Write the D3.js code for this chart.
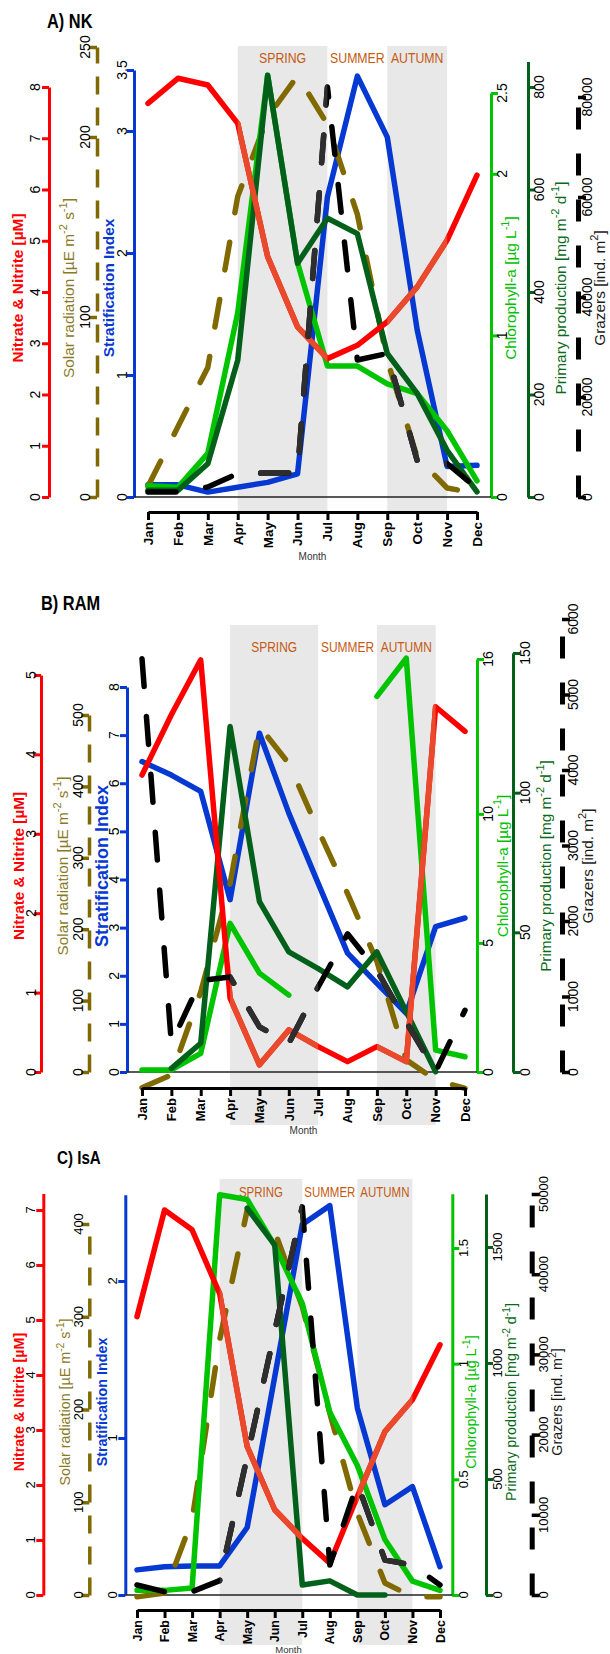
<!DOCTYPE html>
<meta charset="utf-8">
<style>
body { margin: 0; background: #fff; }
svg text { font-family: "Liberation Sans", Arial, sans-serif; }
</style>
<body>
<svg width="610" height="1654"></svg>
<script src="https://cdn.jsdelivr.net/npm/d3@7/dist/d3.min.js"></script>
<script>

// Months and seasons (index of start / end month)
var months = ["Jan", "Feb", "Mar", "Apr", "May", "Jun", "Jul", "Aug", "Sep", "Oct", "Nov", "Dec"];
var seasonNames = ["SPRING", "SUMMER", "AUTUMN"];
var seasonStart = [3, 6, 8];
var seasonEnd = [6, 8, 10];
var seasonShaded = [true, false, true];

// A) NK
var nkNitrate = [7.68, 8.17, 8.04, 7.29, 4.69, 3.32, 2.70, 2.96, 3.42, 4.10, 5.01, 6.28];
var nkSolar = [6, 39, 72, 167, 211, 234, 207, 157, 76, 22, 5, 2];
var nkStrat = [0.10, 0.10, 0.04, 0.08, 0.12, 0.19, 2.46, 3.45, 2.95, 1.37, 0.25, 0.26];
var nkChl = [0.07, 0.06, 0.27, 1.14, 2.61, 1.45, 0.81, 0.81, 0.70, 0.64, 0.41, 0.10];
var nkPP = [13, 13, 65, 267, 823, 456, 544, 514, 280, 202, 91, 10];
var nkGrazers = [1000, 1000, 2000, 4700, 4800, 4800, 82000, 27400, 28700, 7300, 6700, 1700];

// B) RAM
var ramNitrate = [3.74, 4.50, 5.19, 0.93, 0.09, 0.53, 0.32, 0.13, 0.32, 0.13, 4.60, 4.29];
var ramSolar = [-22, -4, 112, 264, 484, 432, 339, 250, 155, 17, -11, -23];
var ramStrat = [6.45, 6.17, 5.83, 3.58, 7.04, 5.38, 3.92, 2.47, 1.84, 1.22, 3.02, 3.20];
var ramChl = [0.08, 0.08, 0.72, 5.76, 3.83, 2.98, null, null, 14.55, 16.03, 0.85, 0.59];
var ramPP = [null, 1.3, 10.3, 123.7, 61, 43, 37, 30.5, 43, 21.6, 0.1, null];
var ramGrazers = [5475, 379, 1214, 1257, 598, 379, 1126, 1830, 1345, 664, 4, 818];

// C) IsA
var isaNitrate = [5.06, 7.00, 6.64, 5.48, 2.70, 1.55, 1.03, 0.58, 1.79, 2.97, 3.55, 4.55];
var isaSolar = [-2, 2, 81, 275, 415, 392, 311, 196, 88, 13, -2, -2];
var isaStrat = [0.16, 0.18, 0.185, 0.185, 0.43, 1.39, 2.36, 2.48, 1.19, 0.575, 0.69, 0.18];
var isaChl = [0.02, 0.02, 0.03, 1.73, 1.71, 1.51, 1.26, 0.79, 0.56, 0.24, 0.06, 0.02];
var isaPP = [null, null, null, null, 1667, 1509, 43, 61, 0, 0, null, null];
var isaGrazers = [1250, 415, 415, 1790, 17250, 32900, 48400, 3740, 13900, 4360, 3740, 1250];

// Tick values
var nkTicks = {
  nitrate: [0, 1, 2, 3, 4, 5, 6, 7, 8], solar: [0, 100, 200, 250], strat: [0, 1, 2, 3, 3.5],
  chl: [0, 1, 2, 2.5], pp: [0, 200, 400, 600, 800], grazers: [0, 20000, 40000, 60000, 80000]
};
var ramTicks = {
  nitrate: [0, 1, 2, 3, 4, 5], solar: [0, 100, 200, 300, 400, 500], strat: [0, 1, 2, 3, 4, 5, 6, 7, 8],
  chl: [0, 5, 10, 16], pp: [0, 50, 100, 150], grazers: [0, 1000, 2000, 3000, 4000, 5000, 6000]
};
var isaTicks = {
  nitrate: [0, 1, 2, 3, 4, 5, 6, 7], solar: [0, 100, 200, 300, 400], strat: [0, 1, 2],
  chl: [0, 0.5, 1, 1.5], pp: [0, 500, 1000, 1500], grazers: [0, 10000, 20000, 30000, 40000, 50000]
};

// Axis titles: [text, superscript?]
var axisTitles = {
  nitrate: [["Nitrate & Nitrite [µM]"]],
  solar: [["Solar radiation [µE m"], ["-2", 1], [" s"], ["-1", 1], ["]"]],
  strat: [["Stratification Index"]],
  chl: [["Chlorophyll-a [µg L"], ["-1", 1], ["]"]],
  pp: [["Primary production [mg m"], ["-2", 1], [" d"], ["-1", 1], ["]"]],
  grazers: [["Grazers [ind. m"], ["2", 1], ["]"]]
};

var style = {
  nitrate: { color: "#ff0000", shade: "#ea4a2c", title: "#ff0000", bold: true, side: "left" },
  solar:   { color: "#806a00", dash: "28,30", axisDash: "18,13", axisW: 3.5, title: "#8a7a26", side: "left" },
  strat:   { color: "#0638d2", title: "#0638d2", bold: true, side: "left" },
  chl:     { color: "#00c400", title: "#00c000", side: "right" },
  pp:      { color: "#03601a", title: "#0a6a1a", side: "right" },
  grazers: { color: "#000000", shade: "#2e2e2e", dash: "28,30", axisDash: "22,24", axisW: 5, title: "#1a1a1a", side: "right" }
};
var drawOrder = ["strat", "solar", "chl", "pp", "nitrate", "grazers"];

var panels = [
  {
    id: "nk", title: "A) NK", titleX: 47, titleY: 28, titleSize: 20,
    x0: 148, x1: 477, y0: 497, shadeTop: 46, shadeBottom: 512, seasonY: 63, seasonSize: 15,
    monthY: 512, monthSize: 13.5, monthTitleY: 560, monthTitleSize: 10,
    tickSize: 14, axTitleSize: 15.4, stratTitleSize: 15.4, axTitleY: 288,
    data: { nitrate: nkNitrate, solar: nkSolar, strat: nkStrat, chl: nkChl, pp: nkPP, grazers: nkGrazers },
    ticks: nkTicks,
    axes: {
      nitrate: { x: 49, ref: [8, 87], max: 8, labelX: 35, titleX: 17 },
      solar: { x: 97, ref: [250, 47], max: 250, labelX: 85, titleX: 68 },
      strat: { x: 134, ref: [3.5, 70], max: 3.5, labelX: 122, titleX: 108 },
      chl: { x: 491, ref: [2.5, 93], max: 2.5, labelX: 502, titleX: 510 },
      pp: { x: 528, ref: [800, 87], max: 850, labelX: 539, titleX: 560 },
      grazers: { x: 578, ref: [80000, 97], max: 80000, labelX: 587, titleX: 599 }
    }
  },
  {
    id: "ram", title: "B) RAM", titleX: 41, titleY: 610, titleSize: 20,
    x0: 142, x1: 465, y0: 1072, shadeTop: 625, shadeBottom: 1125, seasonY: 652, seasonSize: 14.6,
    monthY: 1088, monthSize: 13, monthTitleY: 1134, monthTitleSize: 10,
    tickSize: 14, axTitleSize: 15.3, stratTitleSize: 18, axTitleY: 866,
    data: { nitrate: ramNitrate, solar: ramSolar, strat: ramStrat, chl: ramChl, pp: ramPP, grazers: ramGrazers },
    ticks: ramTicks,
    axes: {
      nitrate: { x: 41, ref: [5, 675], max: 5, labelX: 31, titleX: 18 },
      solar: { x: 89, ref: [500, 715], max: 500, labelX: 78, titleX: 62 },
      strat: { x: 127, ref: [8, 687], max: 8, labelX: 114, titleX: 101.5 },
      chl: { x: 477, ref: [16, 659], max: 16, labelX: 488, titleX: 502 },
      pp: { x: 513, ref: [150, 653], max: 150, labelX: 525, titleX: 545 },
      grazers: { x: 562, ref: [6000, 619], max: 6000, labelX: 573, titleX: 587 }
    }
  },
  {
    id: "isa", title: "C) IsA", titleX: 57, titleY: 1164, titleSize: 18.5,
    x0: 137, x1: 440, y0: 1595, shadeTop: 1179, shadeBottom: 1645, seasonY: 1197, seasonSize: 14,
    monthY: 1610, monthSize: 12.5, monthTitleY: 1653, monthTitleSize: 9.5,
    tickSize: 13, axTitleSize: 14.3, stratTitleSize: 14.3, axTitleY: 1402,
    data: { nitrate: isaNitrate, solar: isaSolar, strat: isaStrat, chl: isaChl, pp: isaPP, grazers: isaGrazers },
    ticks: isaTicks,
    axes: {
      nitrate: { x: 43.3, ref: [7, 1210], max: 7.3, labelX: 30, titleX: 19 },
      solar: { x: 89.3, ref: [400, 1224], max: 400, labelX: 78, titleX: 65 },
      strat: { x: 125.3, ref: [2, 1281], max: 2.55, labelX: 112.5, titleX: 102 },
      chl: { x: 452.3, ref: [1.5, 1248], max: 1.734, labelX: 463, titleX: 471 },
      pp: { x: 486, ref: [1500, 1247], max: 1728, labelX: 497, titleX: 511 },
      grazers: { x: 531.7, ref: [50000, 1194], max: 50000, labelX: 543, titleX: 557 }
    }
  }
];

var svg = d3.select("svg");
var defs = svg.append("defs");

function drawPanel(p) {
  var g = svg.append("g").attr("class", "panel-" + p.id);
  var x = d3.scaleLinear().domain([0, 11]).range([p.x0, p.x1]);

  // seasonal shading (and a clip of it, to tint lines inside the bands)
  var clipId = "clip-" + p.id;
  var clip = defs.append("clipPath").attr("id", clipId);
  seasonNames.forEach(function(s, i) {
    if (!seasonShaded[i]) return;
    var r = [x(seasonStart[i]), p.shadeTop, x(seasonEnd[i]) - x(seasonStart[i]), p.shadeBottom - p.shadeTop];
    g.append("rect").attr("x", r[0]).attr("y", r[1]).attr("width", r[2]).attr("height", r[3])
      .attr("fill", "#e8e8e8");
    clip.append("rect").attr("x", r[0]).attr("y", r[1]).attr("width", r[2]).attr("height", r[3]);
  });
  // narrow-looking labels: squeeze Liberation Sans horizontally
  seasonNames.forEach(function(s, i) {
    g.append("text")
      .attr("transform", "translate(" + x((seasonStart[i] + seasonEnd[i]) / 2) + "," + p.seasonY + ") scale(0.82,1)")
      .attr("text-anchor", "middle").style("font-size", p.seasonSize + "px")
      .attr("fill", "#c55a11").text(s);
  });

  // panel title
  g.append("text")
    .attr("transform", "translate(" + p.titleX + "," + p.titleY + ") scale(0.82,1)")
    .style("font-size", p.titleSize + "px").style("font-weight", "bold")
    .text(p.title);

  // scales and axes
  var ys = {};
  Object.keys(p.axes).forEach(function(k) {
    var a = p.axes[k], st = style[k];
    var pxPerUnit = (p.y0 - a.ref[1]) / a.ref[0];
    var y = d3.scaleLinear().domain([0, a.max]).range([p.y0, p.y0 - a.max * pxPerUnit]);
    ys[k] = y;
    var axis = (st.side === "left" ? d3.axisLeft(y) : d3.axisRight(y))
      .tickValues(p.ticks[k]).tickSize(st.axisDash ? 8 : 7).tickSizeOuter(0).tickFormat("");
    var ag = g.append("g").attr("transform", "translate(" + a.x + ",0)").call(axis);
    ag.select(".domain").attr("stroke", st.color).attr("stroke-width", st.axisW || 3)
      .attr("stroke-dasharray", st.axisDash || null);
    ag.selectAll(".tick line").attr("stroke", st.color).attr("stroke-width", st.axisDash ? 3.5 : 3);

    // rotated tick labels
    g.selectAll(null).data(p.ticks[k]).enter().append("text")
      .attr("transform", function(d) { return "translate(" + a.labelX + "," + y(d) + ") rotate(-90)"; })
      .attr("text-anchor", "middle").attr("dy", "0.36em")
      .style("font-size", p.tickSize + "px").attr("fill", "#000")
      .text(function(d) { return String(d); });

    // rotated axis title
    var fs = k === "strat" ? p.stratTitleSize : p.axTitleSize;
    var t = g.append("text")
      .attr("transform", "translate(" + a.titleX + "," + p.axTitleY + ") rotate(-90)")
      .attr("text-anchor", "middle").attr("dy", (0.36 * fs) + "px")
      .style("font-size", fs + "px").style("font-weight", st.bold ? "bold" : "normal")
      .attr("fill", st.title);
    var shift = 0;
    axisTitles[k].forEach(function(part) {
      var ts = t.append("tspan").text(part[0]);
      if (part[1]) {
        ts.style("font-size", (fs * 0.72) + "px").attr("dy", (-0.45 * fs) + "px");
        shift = 0.45 * fs;
      } else if (shift) {
        ts.attr("dy", shift + "px");
        shift = 0;
      }
    });
  });

  // zero baseline
  g.append("line")
    .attr("x1", p.axes.strat.x).attr("x2", p.axes.chl.x)
    .attr("y1", p.y0).attr("y2", p.y0)
    .attr("stroke", "#222").attr("stroke-width", 1.3);

  // data lines
  drawOrder.forEach(function(k) {
    var st = style[k];
    var line = d3.line()
      .defined(function(d) { return d != null; })
      .x(function(d, i) { return x(i); })
      .y(function(d) { return ys[k](d); });
    var path = line(p.data[k]);
    g.append("path").attr("d", path)
      .attr("fill", "none").attr("stroke", st.color).attr("stroke-width", 5.5)
      .attr("stroke-linejoin", "round").attr("stroke-linecap", "round")
      .attr("stroke-dasharray", st.dash || null);
    if (st.shade) {
      g.append("path").attr("d", path).attr("clip-path", "url(#" + clipId + ")")
        .attr("fill", "none").attr("stroke", st.shade).attr("stroke-width", 5.5)
        .attr("stroke-linejoin", "round").attr("stroke-linecap", "round")
        .attr("stroke-dasharray", st.dash || null);
    }
  });

  // month axis
  var mx = d3.axisBottom(x).tickValues(d3.range(12)).tickSize(8).tickSizeOuter(0).tickFormat("");
  var mg = g.append("g").attr("transform", "translate(0," + p.monthY + ")").call(mx);
  mg.select(".domain").attr("stroke", "#000").attr("stroke-width", 3);
  mg.selectAll(".tick line").attr("stroke", "#000").attr("stroke-width", 3);
  g.selectAll(null).data(months).enter().append("text")
    .attr("transform", function(d, i) { return "translate(" + x(i) + "," + (p.monthY + 10) + ") rotate(-90)"; })
    .attr("text-anchor", "end").attr("dy", "0.36em")
    .style("font-size", p.monthSize + "px").style("font-weight", "bold")
    .text(function(d) { return d; });
  g.append("text")
    .attr("x", (p.x0 + p.x1) / 2).attr("y", p.monthTitleY)
    .attr("text-anchor", "middle").style("font-size", p.monthTitleSize + "px")
    .attr("fill", "#333").text("Month");
}

panels.forEach(drawPanel);

</script>
